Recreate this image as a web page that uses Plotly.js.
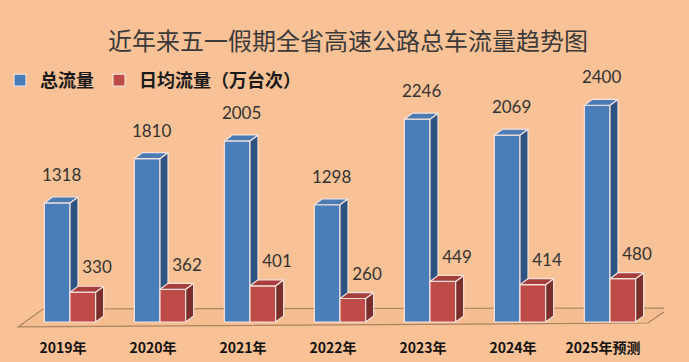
<!DOCTYPE html>
<html>
<head>
<meta charset="utf-8">
<script src="https://cdn.plot.ly/plotly-3.0.1.min.js"></script>
<style>html,body{margin:0;padding:0;background:#F8C196;}#chart{width:689px;height:362px;}</style>
</head>
<body>
<div id="chart"></div>
<script>
// ---- data ----
const years = ['2019年', '2020年', '2021年', '2022年', '2023年', '2024年', '2025年预测'];
const totalFlow = [1318, 1810, 2005, 1298, 2246, 2069, 2400];
const dailyFlow = [330, 362, 401, 260, 449, 414, 480];
const seriesNames = ['总流量', '日均流量（万台次）'];
const chartTitle = '近年来五一假期全省高速公路总车流量趋势图';

// ---- geometry (styling constants, in axis units) ----
const BW = 0.285;   // bar width
const DX = 0.089;   // 3D depth, x
const DY = 66;      // 3D depth, y
const idx = years.map((_, i) => i);

function faces(values, x0of) {
  const side = {x: [], y: []}, top = {x: [], y: []};
  values.forEach((v, i) => {
    const x0 = x0of(i), x1 = x0 + BW;
    side.x.push(x1, x1 + DX, x1 + DX, x1, x1, null);
    side.y.push(0, DY, v + DY, v, 0, null);
    top.x.push(x0, x0 + DX, x1 + DX, x1, x0, null);
    top.y.push(v, v + DY, v + DY, v, v, null);
  });
  return {side, top};
}
const blueF = faces(totalFlow, i => i - BW);
const redF = faces(dailyFlow, i => i);

const edge = {color: '#f4e2dc', width: 1.2};
function poly(f, color, xa, ya) {
  return {type: 'scatter', mode: 'lines', x: f.x, y: f.y, fill: 'toself', fillcolor: color,
    line: edge, hoverinfo: 'skip', showlegend: false, xaxis: xa, yaxis: ya, connectgaps: false};
}

const labelFont = {family: 'Lato, "Open Sans", sans-serif', size: 17, color: '#333'};

const traces = [
  // layer 1: total flow (blue)
  {type: 'bar', name: seriesNames[0], x: idx, y: totalFlow, width: BW, offset: -BW,
   marker: {color: '#4A7EBB', line: edge}, xaxis: 'x', yaxis: 'y', hoverinfo: 'y'},
  poly(blueF.side, '#2E5282', 'x', 'y'),
  poly(blueF.top, '#4C7AB3', 'x', 'y'),
  {type: 'scatter', mode: 'text', x: idx.map(i => i - BW / 2 + DX / 2 + 0.005),
   y: totalFlow.map(v => v + 288), text: totalFlow.map(String), textfont: labelFont,
   showlegend: false, hoverinfo: 'skip', xaxis: 'x', yaxis: 'y', cliponaxis: false},
  // layer 2: daily flow (red), drawn above blue
  {type: 'bar', name: seriesNames[1], x: idx, y: dailyFlow, width: BW, offset: 0,
   marker: {color: '#BE4B48', line: edge}, xaxis: 'x2', yaxis: 'y2', hoverinfo: 'y'},
  poly(redF.side, '#7B2E2C', 'x2', 'y2'),
  poly(redF.top, '#A63F3C', 'x2', 'y2'),
  {type: 'scatter', mode: 'text', x: idx.map(i => i + 0.3),
   y: dailyFlow.map(v => v + 255), text: dailyFlow.map(String), textfont: labelFont,
   showlegend: false, hoverinfo: 'skip', xaxis: 'x2', yaxis: 'y2', cliponaxis: false}
];

const XR = [-0.6, 6.6], YR = [-144, 2901];
const hiddenAxis = {range: XR, showgrid: false, zeroline: false, showline: false, ticks: '', fixedrange: true, automargin: false};

const layout = {
  width: 689, height: 362,
  paper_bgcolor: '#F8C196', plot_bgcolor: 'rgba(0,0,0,0)',
  margin: {l: 16, r: 25, t: 60, b: 27, autoexpand: false},
  title: {text: chartTitle, font: {family: '"Noto Sans CJK SC", sans-serif', size: 24, color: '#3a3a3a'},
          x: 0.505, xanchor: 'center', y: 1 - 42 / 362, yanchor: 'middle', yref: 'container', automargin: false},
  showlegend: true,
  legend: {orientation: 'h', xref: 'container', yref: 'container', x: 0.0, y: 1 - 62 / 362,
           xanchor: 'left', yanchor: 'top', bgcolor: 'rgba(0,0,0,0)',
           font: {family: '"Noto Sans CJK SC", sans-serif', size: 18, color: '#1a1a1a', weight: 'bold'},
           traceorder: 'normal'},
  xaxis: Object.assign({}, hiddenAxis, {
    tickmode: 'array', tickvals: idx.map(i => i - 0.078), ticktext: years,
    tickfont: {family: '"Noto Sans CJK SC", sans-serif', size: 14, color: '#111', weight: 'bold'},
    showticklabels: true, ticklabelstandoff: 3}),
  yaxis: {range: YR, showgrid: false, zeroline: false, showline: false, showticklabels: false, fixedrange: true, automargin: false},
  xaxis2: Object.assign({}, hiddenAxis, {overlaying: 'x', showticklabels: false}),
  yaxis2: {range: YR, overlaying: 'y', showgrid: false, zeroline: false, showline: false, showticklabels: false, fixedrange: true, automargin: false},
  shapes: [{
    type: 'path', xref: 'x', yref: 'y', layer: 'below',
    path: 'M -0.578 -55 L -0.3 144 L 6.667 155 L 6.42 -11 Z',
    fillcolor: '#F6BE90', line: {color: '#A8845F', width: 1.2}
  }]
};

Plotly.newPlot('chart', traces, layout, {displayModeBar: false, staticPlot: true});
</script>
</body>
</html>
